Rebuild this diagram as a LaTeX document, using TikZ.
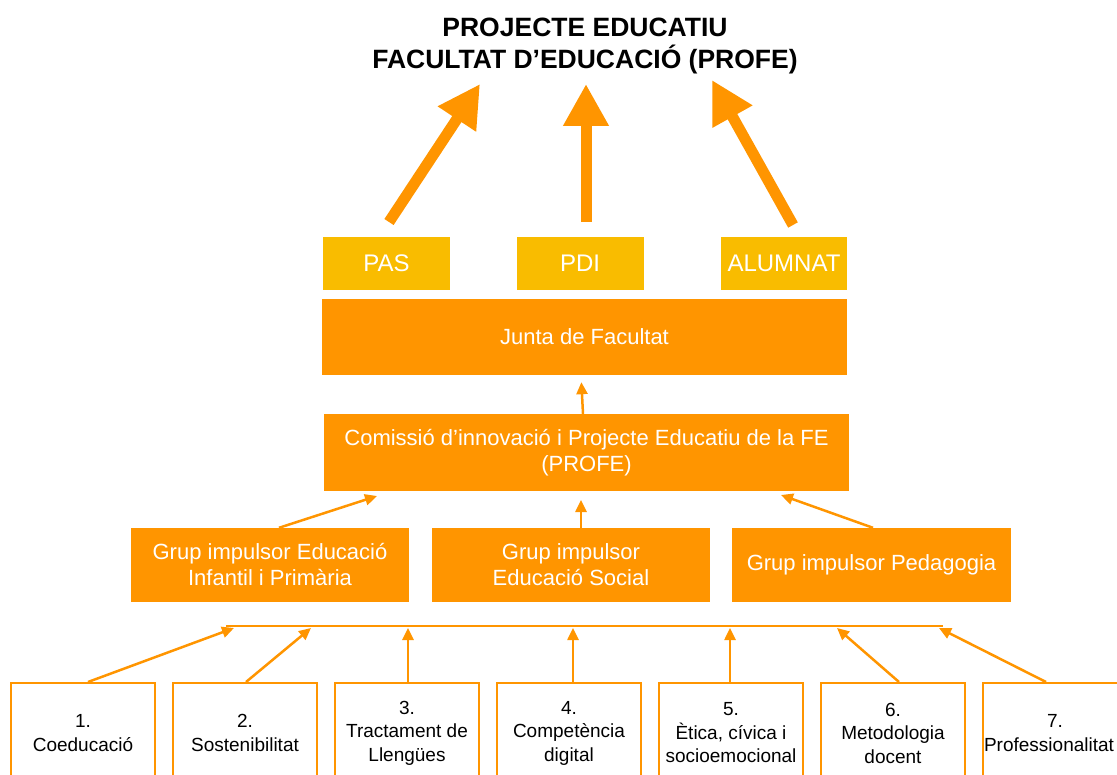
\documentclass[tikz,border=0pt]{standalone}
\usepackage{fontspec}
\setmainfont{Liberation Sans}
\usetikzlibrary{arrows.meta}
\definecolor{profeorange}{RGB}{255,149,0}
\definecolor{profeyellow}{RGB}{249,188,0}
\tikzset{
  orangebox/.style={fill=profeorange, text=white, inner sep=0pt, align=center,
    font=\fontsize{22}{26}\selectfont},
  yellowbox/.style={fill=profeyellow, text=white, inner sep=0pt,
    minimum width=127pt, minimum height=53pt, font=\fontsize{24}{26}\selectfont},
  linebox/.style={draw=profeorange, line width=2pt, fill=white, inner sep=0pt,
    minimum width=144pt, minimum height=100pt, align=center,
    font=\fontsize{19}{23.5}\selectfont},
  thinarrow/.style={draw=profeorange, line width=2.5pt,
    -{Triangle[length=12pt,width=11pt]}},
  bigarrow/.style={draw=profeorange, line width=11pt,
    -{Triangle[length=42pt,width=43pt]}},
}
\begin{document}
\begin{tikzpicture}[x=1pt,y=-1pt]
    \useasboundingbox (0,0) rectangle (1117,775);

    % Title:
    \node[align=center, font=\bfseries\fontsize{26.5}{32}\selectfont] (title) at (585,46)
        {PROJECTE EDUCATIU\\FACULTAT D’EDUCACIÓ (PROFE)};

    % Collectives:
    \node[yellowbox] (pas) at (386.5,263.5) {PAS};
    \node[yellowbox] (pdi) at (580,263.5) {PDI};
    \node[yellowbox, minimum width=126pt] (alumnat) at (784,263.5) {ALUMNAT};

    % Big arrows towards the title:
    \coordinate (pasTail) at (389,222);     \coordinate (pasTip) at (480,84);
    \coordinate (pdiTail) at (586,222);     \coordinate (pdiTip) at (586,84);
    \coordinate (alumnatTail) at (793,225); \coordinate (alumnatTip) at (712,80);
    \draw[bigarrow] (pasTail) -- (pasTip);
    \draw[bigarrow] (pdiTail) -- (pdiTip);
    \draw[bigarrow] (alumnatTail) -- (alumnatTip);

    % Governing bodies:
    \node[orangebox, minimum width=525pt, minimum height=76pt] (junta) at (584.5,337) {Junta de Facultat};
    \node[orangebox, minimum width=525pt, minimum height=77pt] (comissio) at (586.5,452.5)
        {Comissió d’innovació i Projecte Educatiu de la FE\\(PROFE)};
    \draw[thinarrow, shorten >=7pt] ([xshift=-3.5pt]comissio.north) -- ([xshift=-3.5pt]junta.south);

    % Grups impulsors:
    \node[orangebox, minimum width=278pt, minimum height=74pt] (grupA) at (270,565)
        {Grup impulsor Educació\\Infantil i Primària};
    \node[orangebox, minimum width=278pt, minimum height=74pt] (grupB) at (571,565)
        {Grup impulsor\\Educació Social};
    \node[orangebox, minimum width=279pt, minimum height=74pt] (grupC) at (871.5,565)
        {Grup impulsor Pedagogia};
    \coordinate (inA) at (377,496);
    \coordinate (inB) at (581,500);
    \coordinate (inC) at (781,495);
    \draw[thinarrow] ([xshift=9pt]grupA.north) -- (inA);
    \draw[thinarrow] ([xshift=10pt]grupB.north) -- (inB);
    \draw[thinarrow] ([xshift=1.5pt]grupC.north) -- (inC);

    % Bus line:
    \coordinate (busL) at (226,626);
    \coordinate (busR) at (943,626);
    \draw[profeorange, line width=2.5pt] (busL) -- (busR);

    % Axes of the project:
    \foreach \i/\txt in {1/{1.\\Coeducació}, 2/{2.\\Sostenibilitat},
                         3/{3.\\Tractament de\\Llengües}, 4/{4.\\Competència\\digital},
                         5/{5.\\Ètica, cívica i\\socioemocional}, 6/{6.\\Metodologia\\docent},
                         7/{7.\\\hspace*{-12pt}Professionalitat}}
        \node[linebox] (eix\i) at ({83+162*(\i-1)},733) {\txt};

    \foreach \i/\dx/\tx in {1/5/234, 2/1/311, 3/1/408, 4/4/573, 5/-1/730, 6/6/837, 7/-9/939}{
        \coordinate (bus\i) at (\tx,628);
        \draw[thinarrow] ([xshift=\dx pt]eix\i.north) -- (bus\i);
    }
\end{tikzpicture}
\end{document}
